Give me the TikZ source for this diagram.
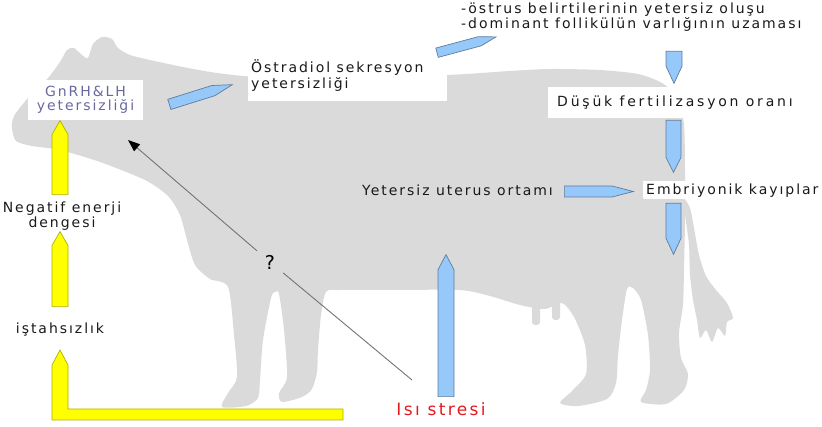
\documentclass[tikz,border=0pt]{standalone}
\usepackage{fontspec}
\setmainfont{DejaVu Sans}[LetterSpace=14]
\usetikzlibrary{shapes.arrows,arrows.meta}

\definecolor{cowgray}{RGB}{218,218,218}
\definecolor{arrowblue}{RGB}{150,200,250}
\definecolor{arrowblueline}{RGB}{95,125,155}
\definecolor{arrowyellow}{RGB}{255,255,0}
\definecolor{arrowyellowline}{RGB}{175,175,0}
\definecolor{labelviolet}{RGB}{105,105,160}
\definecolor{heatred}{RGB}{226,26,32}
\definecolor{linegray}{RGB}{115,115,115}

\tikzset{
  blockarrow/.style={single arrow, single arrow head extend=0pt, inner sep=0pt,
    line width=0.7pt, anchor=tail},
  bluearrow/.style={blockarrow, fill=arrowblue, draw=arrowblueline},
  yellowarrow/.style={blockarrow, fill=arrowyellow, draw=arrowyellowline,
    minimum width=16pt, single arrow tip angle=60},
  lbl/.style={font=\fontsize{14}{15}\selectfont, inner sep=0pt, text=black!90},
  widelbl/.style={lbl, font=\fontsize{14}{15}\selectfont\addfontfeatures{LetterSpace=20}},
  whitebox/.style={fill=white, inner sep=0pt},
  questionline/.style={draw=linegray, line width=0.9pt},
}

\begin{document}
\begin{tikzpicture}[x=1pt, y=-1pt]
\useasboundingbox (0,0) rectangle (822,427);

% cow silhouette
\fill[cowgray] plot[smooth cycle, tension=0.45] coordinates {
  (12,128) (14,116) (28,98) (48,78) (60,62) (67,50) (74,48) (82,55) (88,58)
  (93,44) (102,37) (112,39) (118,48) (130,55) (150,60) (183,67) (217,73)
  (260,77) (350,77) (447,75) (510,71) (550,69) (600,70) (638,74) (662,83)
  (678,98) (684,125) (685,170) (685,220) (684,270) (683,305) (679,333)
  (681,358) (688,374) (684,390) (666,404) (641,402) (646,390) (650,370)
  (648,335) (641,300) (633,288) (627,289) (622,320) (618,355) (616,383)
  (607,399) (578,406) (560,403) (572,391) (586,374) (585,345) (574,317)
  (562,303) (545,309) (520,305) (490,296) (460,290) (400,290) (340,290)
  (326,292) (321,315) (318,350) (317,372) (312,389) (302,397) (282,402)
  (279,393) (287,377) (284,330) (279,294) (275,292) (271,298) (263,340)
  (260,380) (258,398) (246,406) (222,407) (228,393) (237,377) (234,335)
  (228,287) (210,279) (195,265) (187,240) (180,215) (168,196) (145,180)
  (100,162) (60,150) (32,146) (16,141)};
% tail
\fill[cowgray] plot[smooth cycle, tension=0.45] coordinates {
  (683,198) (690,208) (694,228) (699,255) (706,276) (716,290) (727,303)
  (733,318) (727,322) (725,336) (718,328) (712,342) (706,330) (700,338)
  (697,320) (693,300) (690,275) (689,245) (686,222)};
% teats
\fill[cowgray, rounded corners=3pt] (532,300) rectangle (540,325);
\fill[cowgray, rounded corners=3pt] (552,298) rectangle (560,320);

% label boxes
\node[whitebox, minimum width=115pt, minimum height=40pt] (gnrhbox) at (85.5,100) {};
\node[whitebox, minimum width=199pt, minimum height=49pt] (oestbox) at (347.5,76.5) {};
\node[whitebox, minimum width=274pt, minimum height=31pt] (fertbox) at (685,102.5) {};
\node[whitebox, minimum width=175pt, minimum height=18pt] (embbox) at (730.5,190) {};

% labels
\node[lbl, text=labelviolet, anchor=base] (gnrh1) at (85.5,97) {GnRH\&LH};
\node[lbl, text=labelviolet, anchor=base] (gnrh2) at (85.5,111) {yetersizliği};
\node[lbl, anchor=base west] (oest1) at (251,73) {Östradiol sekresyon};
\node[lbl, anchor=base west] (oest2) at (251,89) {yetersizliği};
\node[lbl, anchor=base west] (estr1) at (461,14) {-östrus belirtilerinin yetersiz oluşu};
\node[lbl, anchor=base west] (estr2) at (461,29) {-dominant follikülün varlığının uzaması};
\node[widelbl, anchor=base west] (fert) at (557,107) {Düşük fertilizasyon oranı};
\node[lbl, anchor=base west] (uter) at (362,196) {Yetersiz uterus ortamı};
\node[lbl, anchor=base west] (emb) at (646,195) {Embriyonik kayıplar};
\node[lbl, anchor=base] (neg1) at (62,213) {Negatif enerji};
\node[lbl, anchor=base] (neg2) at (62,228) {dengesi};
\node[lbl, anchor=base] (apt) at (60,334) {iştahsızlık};
\node[lbl, text=heatred, font=\fontsize{17}{19}\selectfont, anchor=base] (heat) at (441,416) {Isı stresi};

% yellow chain on the left
\node[yellowarrow, minimum height=74pt, rotate=90] (ya) at (60,195) {};
\node[yellowarrow, minimum height=75pt, rotate=90] (yb) at (60,307) {};
\fill[arrowyellow, draw=arrowyellowline, line width=0.7pt]
  (52,420) -- (52,365) -- (60,350) -- (68,365) -- (68,409) -- (343,409)
  -- (343,420) -- cycle;

% blue arrows
\node[bluearrow, minimum width=16pt, minimum height=142pt, single arrow tip angle=56, rotate=90] (ba) at (446,397) {};
\node[bluearrow, minimum width=10.6pt, minimum height=66pt, single arrow tip angle=30, rotate=17.4] (bb) at (169,104.5) {};
\node[bluearrow, minimum width=9.6pt, minimum height=61pt, single arrow tip angle=32, rotate=15] (bc) at (436.7,52.8) {};
\node[bluearrow, minimum width=16pt, minimum height=32pt, single arrow tip angle=50, rotate=-90] (bd) at (674,51) {};
\node[bluearrow, minimum width=15pt, minimum height=52pt, single arrow tip angle=53, rotate=-90] (be) at (673.5,120) {};
\node[bluearrow, minimum width=11pt, minimum height=69pt, single arrow tip angle=29] (bf) at (564,191.5) {};
\node[bluearrow, minimum width=15pt, minimum height=51pt, single arrow tip angle=50, rotate=-90] (bg) at (673.5,203) {};

% uncertain link from heat stress to GnRH/LH
\node[font=\fontsize{19}{20}\selectfont, circle, inner sep=0pt, minimum size=34pt] (q) at (270,262) {?};
\coordinate (heatsrc) at (412,380);
\coordinate (gnrhtgt) at (128,140);
\draw[questionline] (heatsrc) -- (q);
\draw[questionline, -{Triangle[length=12pt, width=9pt, color=black]}] (q) -- (gnrhtgt);
\end{tikzpicture}
\end{document}
